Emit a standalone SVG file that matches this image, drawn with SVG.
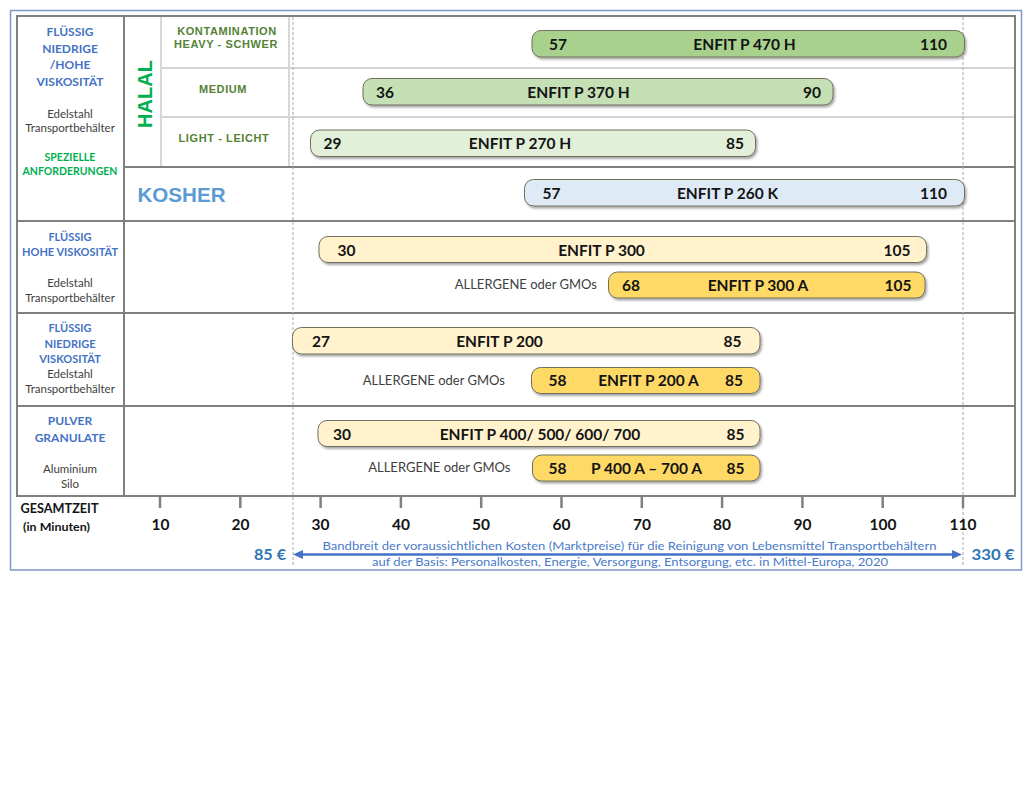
<svg xmlns="http://www.w3.org/2000/svg" width="1032" height="810" viewBox="0 0 1032 810">
<defs>
<filter id="sh" x="-5%" y="-30%" width="112%" height="180%">
<feDropShadow dx="1.5" dy="2" stdDeviation="1.3" flood-color="#000" flood-opacity="0.35"/>
</filter>
<marker id="ah" viewBox="0 0 10 9" refX="3" refY="4.5" markerWidth="10" markerHeight="9" markerUnits="userSpaceOnUse" orient="auto-start-reverse">
<path d="M0,0 L10,4.5 L0,9 z" fill="#4472C4"/>
</marker>
</defs>
<style>
.frame{fill:none;stroke:#8098c8;stroke-width:1.5}
.tbl{fill:none;stroke:#808080;stroke-width:2}
.ln{stroke:#808080;stroke-width:2}
.lnl{stroke:#d4d4d4;stroke-width:1.8}
.dash{stroke:#a8a8a8;stroke-width:1;stroke-dasharray:3 2}
.tick{stroke:#808080;stroke-width:2.5}
.bar{stroke:#6f6f5c;stroke-width:1;filter:url(#sh)}
.g1{fill:#A9D18E}.g2{fill:#C5E0B4}.g3{fill:#E2F0D9}.b1{fill:#DEEBF7}.y1{fill:#FFF2CC}.y2{fill:#FFD966}
.bt{font-family:Lato,'Liberation Sans',sans-serif;font-weight:bold;font-size:15.5px;fill:#141414}
.m{text-anchor:middle}.e{text-anchor:end}
.al{font-family:Lato,'Liberation Sans',sans-serif;font-size:13px;fill:#404040;text-anchor:end}
.cat{font-family:Lato,'Liberation Sans',sans-serif;font-weight:bold;fill:#4472C4;text-anchor:middle}
.mat{font-family:Lato,'Liberation Sans',sans-serif;font-size:11.5px;fill:#404040;text-anchor:middle}
.spz{font-family:Lato,'Liberation Sans',sans-serif;font-weight:bold;font-size:10.5px;fill:#00B050;text-anchor:middle}
.hl{font-family:'Liberation Sans',Arial,sans-serif;font-weight:bold;font-size:11px;letter-spacing:0.6px;fill:#548235;text-anchor:middle}
.ax{font-family:Lato,'Liberation Sans',sans-serif;font-weight:bold;font-size:15.5px;fill:#141414;text-anchor:middle}
.eur{font-family:Lato,'Liberation Sans',sans-serif;font-weight:bold;font-size:16px;fill:#2E75B6}
.note{font-family:Lato,'Liberation Sans',sans-serif;font-size:11.5px;fill:#4a7bc8;text-anchor:middle}
</style>
<rect width="1032" height="810" fill="#ffffff"/>
<g id="frame">
<rect class="frame" x="10.5" y="10.5" width="1011" height="559.5"/>
</g>
<g id="grid">
<rect class="tbl" x="17" y="16" width="998" height="480"/>
<line class="ln" x1="124" y1="16" x2="124" y2="496"/>
<line class="lnl" x1="161" y1="17" x2="161" y2="166"/>
<line class="lnl" x1="289" y1="17" x2="289" y2="166"/>
<line class="lnl" x1="162" y1="68" x2="1014" y2="68"/>
<line class="lnl" x1="162" y1="117" x2="1014" y2="117"/>
<line class="ln" x1="124" y1="167" x2="1015" y2="167"/>
<line class="ln" x1="17" y1="221" x2="1015" y2="221"/>
<line class="ln" x1="17" y1="313" x2="1015" y2="313"/>
<line class="ln" x1="17" y1="406" x2="1015" y2="406"/>
<line class="dash" x1="293" y1="17" x2="293" y2="566"/>
<line class="dash" x1="963" y1="17" x2="963" y2="566"/>
</g>
<g id="axis">
<line class="tick" x1="160" y1="497" x2="160" y2="508"/>
<line class="tick" x1="240.3" y1="497" x2="240.3" y2="508"/>
<line class="tick" x1="320.6" y1="497" x2="320.6" y2="508"/>
<line class="tick" x1="400.9" y1="497" x2="400.9" y2="508"/>
<line class="tick" x1="481.2" y1="497" x2="481.2" y2="508"/>
<line class="tick" x1="561.5" y1="497" x2="561.5" y2="508"/>
<line class="tick" x1="641.8" y1="497" x2="641.8" y2="508"/>
<line class="tick" x1="722.1" y1="497" x2="722.1" y2="508"/>
<line class="tick" x1="802.4" y1="497" x2="802.4" y2="508"/>
<line class="tick" x1="882.7" y1="497" x2="882.7" y2="508"/>
<line class="tick" x1="963" y1="497" x2="963" y2="508"/>
<text class="ax" x="160.5" y="529.5">10</text>
<text class="ax" x="240.5" y="529.5">20</text>
<text class="ax" x="320.5" y="529.5">30</text>
<text class="ax" x="401" y="529.5">40</text>
<text class="ax" x="481" y="529.5">50</text>
<text class="ax" x="561.5" y="529.5">60</text>
<text class="ax" x="642" y="529.5">70</text>
<text class="ax" x="722" y="529.5">80</text>
<text class="ax" x="802.5" y="529.5">90</text>
<text class="ax" x="883" y="529.5">100</text>
<text class="ax" x="963" y="529.5">110</text>
<text x="20.5" y="513" font-family="Lato,'Liberation Sans',sans-serif" font-weight="bold" font-size="12.5px" fill="#141414" textLength="78" lengthAdjust="spacingAndGlyphs">GESAMTZEIT</text>
<text x="23" y="530.5" font-family="Lato,'Liberation Sans',sans-serif" font-weight="bold" font-size="10.5px" fill="#141414" textLength="67" lengthAdjust="spacingAndGlyphs">(in Minuten)</text>
</g>
<g id="cost-range">
<line x1="300" y1="554.5" x2="955" y2="554.5" stroke="#4472C4" stroke-width="2.5" marker-start="url(#ah)" marker-end="url(#ah)"/>
<text class="note" x="629.5" y="549.5" textLength="614" lengthAdjust="spacingAndGlyphs">Bandbreit der voraussichtlichen Kosten (Marktpreise) für die Reinigung von Lebensmittel Transportbehältern</text>
<text class="note" x="630" y="566" textLength="516" lengthAdjust="spacingAndGlyphs">auf der Basis:  Personalkosten, Energie, Versorgung, Entsorgung, etc. in Mittel-Europa, 2020</text>
<text class="eur" x="254" y="559.5" textLength="32" lengthAdjust="spacingAndGlyphs">85 €</text>
<text class="eur" x="971.5" y="559.5" textLength="43" lengthAdjust="spacingAndGlyphs">330 €</text>
</g>
<g id="label-special">
<text class="cat" font-size="12px" x="70" y="36">FLÜSSIG</text>
<text class="cat" font-size="12px" x="70" y="52.5">NIEDRIGE</text>
<text class="cat" font-size="12px" x="70" y="69">/HOHE</text>
<text class="cat" font-size="12px" x="70" y="86">VISKOSITÄT</text>
<text class="mat" x="70" y="118">Edelstahl</text>
<text class="mat" x="70" y="132">Transportbehälter</text>
<text class="spz" x="70" y="161">SPEZIELLE</text>
<text class="spz" x="70" y="175">ANFORDERUNGEN</text>
</g>
<g id="label-halal">
<text transform="translate(151.5,94) rotate(-90)" text-anchor="middle" font-family="'Liberation Sans',Arial,sans-serif" font-weight="bold" font-size="20px" fill="#00B050">HALAL</text>
<text class="hl" x="227" y="35">KONTAMINATION</text>
<text class="hl" x="226" y="47.5">HEAVY - SCHWER</text>
<text class="hl" x="223" y="93">MEDIUM</text>
<text class="hl" x="224" y="141.5">LIGHT - LEICHT</text>
</g>
<g id="label-kosher">
<text x="137.5" y="201.5" font-family="'Liberation Sans',Arial,sans-serif" font-weight="bold" font-size="20px" fill="#5B9BD5" textLength="88" lengthAdjust="spacingAndGlyphs">KOSHER</text>
</g>
<g id="label-high">
<text class="cat" font-size="11px" x="70" y="240.5">FLÜSSIG</text>
<text class="cat" font-size="11px" x="70" y="255.5">HOHE VISKOSITÄT</text>
<text class="mat" x="70" y="286.5">Edelstahl</text>
<text class="mat" x="70" y="301.5">Transportbehälter</text>
</g>
<g id="label-low">
<text class="cat" font-size="11px" x="70" y="332">FLÜSSIG</text>
<text class="cat" font-size="11px" x="70" y="347.5">NIEDRIGE</text>
<text class="cat" font-size="11px" x="70" y="362.5">VISKOSITÄT</text>
<text class="mat" x="70" y="378">Edelstahl</text>
<text class="mat" x="70" y="393">Transportbehälter</text>
</g>
<g id="label-powder">
<text class="cat" font-size="12px" x="70" y="425">PULVER</text>
<text class="cat" font-size="12px" x="70" y="441.5">GRANULATE</text>
<text class="mat" x="70" y="472.5">Aluminium</text>
<text class="mat" x="70" y="488">Silo</text>
</g>
<g id="bar-p470h">
<rect class="bar g1" x="532" y="30.5" width="432.5" height="26.5" rx="9"/>
<text class="bt" x="549" y="49.5">57</text>
<text class="bt m" x="744.5" y="49.5">ENFIT P 470 H</text>
<text class="bt e" x="947" y="49.5">110</text>
</g>
<g id="bar-p370h">
<rect class="bar g2" x="363" y="78.5" width="470" height="26.5" rx="9"/>
<text class="bt" x="376" y="97.5">36</text>
<text class="bt m" x="578.5" y="97.5">ENFIT P 370 H</text>
<text class="bt e" x="821" y="97.5">90</text>
</g>
<g id="bar-p270h">
<rect class="bar g3" x="310.5" y="130" width="445" height="26.5" rx="9"/>
<text class="bt" x="323.5" y="149">29</text>
<text class="bt m" x="520" y="149">ENFIT P 270 H</text>
<text class="bt e" x="744" y="149">85</text>
</g>
<g id="bar-p260k">
<rect class="bar b1" x="524.5" y="179.5" width="440" height="26.5" rx="9"/>
<text class="bt" x="542.5" y="198.5">57</text>
<text class="bt m" x="727.5" y="198.5">ENFIT P 260 K</text>
<text class="bt e" x="947" y="198.5">110</text>
</g>
<g id="bar-p300">
<rect class="bar y1" x="319" y="236.5" width="607.5" height="26" rx="9"/>
<text class="bt" x="337.5" y="255.5">30</text>
<text class="bt m" x="601.5" y="255.5">ENFIT P 300</text>
<text class="bt e" x="910.5" y="255.5">105</text>
</g>
<g id="bar-p300a">
<text class="al" x="597" y="289">ALLERGENE oder GMOs</text>
<rect class="bar y2" x="608.5" y="272" width="316.5" height="26" rx="9"/>
<text class="bt" x="622" y="290.5">68</text>
<text class="bt m" x="758" y="290.5">ENFIT P 300 A</text>
<text class="bt e" x="911.5" y="290.5">105</text>
</g>
<g id="bar-p200">
<rect class="bar y1" x="292.5" y="327.5" width="467.5" height="26.5" rx="9"/>
<text class="bt" x="312" y="346.5">27</text>
<text class="bt m" x="499.5" y="346.5">ENFIT P 200</text>
<text class="bt e" x="741.5" y="346.5">85</text>
</g>
<g id="bar-p200a">
<text class="al" x="505" y="385">ALLERGENE oder GMOs</text>
<rect class="bar y2" x="531.5" y="367.5" width="228.5" height="26" rx="9"/>
<text class="bt" x="548.5" y="386">58</text>
<text class="bt m" x="648.5" y="386">ENFIT P 200 A</text>
<text class="bt e" x="743" y="386">85</text>
</g>
<g id="bar-p400">
<rect class="bar y1" x="318" y="420.5" width="442" height="26" rx="9"/>
<text class="bt" x="333" y="439.5">30</text>
<text class="bt m" x="540" y="439.5">ENFIT P 400/ 500/ 600/ 700</text>
<text class="bt e" x="744.5" y="439.5">85</text>
</g>
<g id="bar-p400a">
<text class="al" x="510.5" y="472">ALLERGENE oder GMOs</text>
<rect class="bar y2" x="532.5" y="455" width="227.5" height="26" rx="9"/>
<text class="bt" x="548.5" y="473.5">58</text>
<text class="bt m" x="646.5" y="473.5">P 400 A – 700 A</text>
<text class="bt e" x="744.5" y="473.5">85</text>
</g>
</svg>
